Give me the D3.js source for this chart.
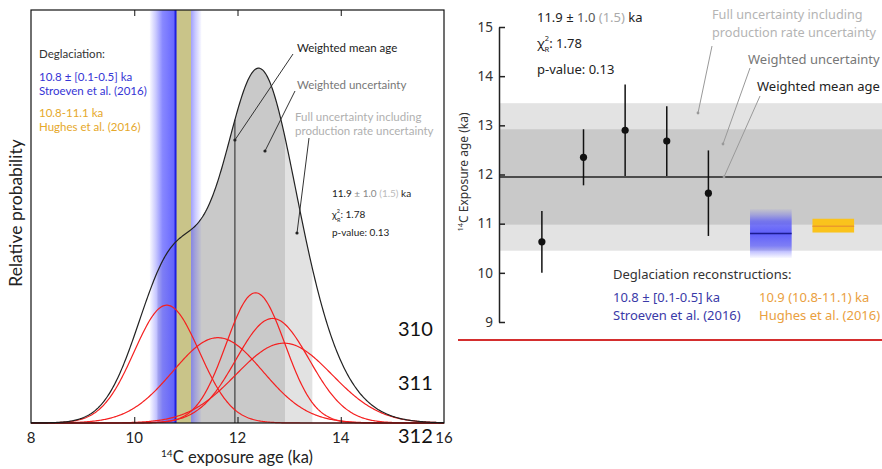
<!DOCTYPE html>
<html>
<head>
<meta charset="utf-8">
<script src="https://cdn.jsdelivr.net/npm/d3@7"></script>
<style>
body { margin: 0; background: #fff; }
svg { display: block; }
</style>
</head>
<body>
<svg id="chart" width="882" height="469"></svg>
<script>
'use strict';

// samples (14C exposure ages, ka) and 1-sigma errors
var sampleAges = [10.63, 12.35, 12.9, 12.68, 11.62];
var sampleErrs = [0.63, 0.57, 0.93, 0.71, 0.87];
var samplePos = [0, 1, 2, 3, 4];
// weighted mean, weighted uncertainty, full uncertainty
var meanAge = 11.95,
    meanErr = 0.97,
    fullErr = 1.5;
// deglaciation reconstructions: [age, low, high]
var stroeven = [10.8, 10.3, 11.3];
var hughes = [10.95, 10.82, 11.1];
var deglacPos = [5.5, 7];
var leftTicks = [8, 10, 12, 14, 16];
var rightTicks = [9, 10, 11, 12, 13, 14, 15];
var slideNums = ['310', '311', '312'];

var svg = d3.select('#chart');
var defs = svg.append('defs');
var leftFont = 'Lato, "Liberation Sans", sans-serif',
    rightFont = '"Noto Sans", "Open Sans", sans-serif';

function pdf(x, mu, s) {
    return Math.exp(-0.5 * Math.pow((x - mu) / s, 2)) / (s * Math.sqrt(2 * Math.PI));
}
function sumPdf(x) {
    return d3.sum(sampleAges, (m, i) => pdf(x, m, sampleErrs[i]));
}

function bandGradient(id, horizontal) {
    var g = defs.append('linearGradient').attr('id', id)
        .attr('x1', 0).attr('y1', 0)
        .attr('x2', horizontal ? 1 : 0).attr('y2', horizontal ? 0 : 1);
    [[0, 0.03], [0.12, 0.3], [0.25, 0.65], [0.5, 0.85], [0.75, 0.65], [0.88, 0.3], [1, 0.03]]
        .forEach(s => g.append('stop').attr('offset', s[0])
            .attr('stop-color', '#4848ff').attr('stop-opacity', s[1]));
}
bandGradient('blueH', true);
bandGradient('blueV', false);

// ---------------- left panel: probability density ----------------
var xL = d3.scaleLinear().domain([8, 16]).range([31, 444]);
var yL = d3.scaleLinear().domain([0, 2.22]).range([423, 10]);
var grid = d3.range(8, 16.001, 0.02);

var left = svg.append('g');

var area = d3.area()
    .x(d => xL(d))
    .y0(yL(0))
    .y1(d => yL(sumPdf(d)));

function fillRange(lo, hi, color) {
    var pts = grid.filter(d => d >= lo && d <= hi);
    pts.unshift(lo);
    pts.push(hi);
    left.append('path').datum(pts).attr('d', area).attr('fill', color);
}
fillRange(meanAge - fullErr, meanAge + fullErr, '#e2e2e2');
fillRange(meanAge - meanErr, meanAge + meanErr, '#c9c9c9');

// deglaciation bands
left.append('rect')
    .attr('x', xL(stroeven[1])).attr('width', xL(stroeven[2]) - xL(stroeven[1]))
    .attr('y', yL.range()[1]).attr('height', yL.range()[0] - yL.range()[1])
    .attr('fill', 'url(#blueH)');
left.append('rect')
    .attr('x', xL(stroeven[0])).attr('width', xL(hughes[2]) - xL(stroeven[0]))
    .attr('y', yL.range()[1]).attr('height', yL.range()[0] - yL.range()[1])
    .attr('fill', '#c9c489');
left.append('line')
    .attr('x1', xL(stroeven[0])).attr('x2', xL(stroeven[0]))
    .attr('y1', yL.range()[1]).attr('y2', yL.range()[0])
    .attr('stroke', '#1f1fe0').attr('stroke-width', 2);

// mean age line up to curve
left.append('line')
    .attr('x1', xL(meanAge)).attr('x2', xL(meanAge))
    .attr('y1', yL(0)).attr('y2', yL(sumPdf(meanAge)))
    .attr('stroke', '#222').attr('stroke-width', 1);

var line = d3.line().x(d => xL(d[0])).y(d => yL(d[1]));
sampleAges.forEach(function(m, i) {
    left.append('path')
        .datum(grid.map(x => [x, pdf(x, m, sampleErrs[i])]))
        .attr('d', line)
        .attr('fill', 'none').attr('stroke', '#f52020').attr('stroke-width', 1.2);
});
left.append('path')
    .datum(grid.map(x => [x, sumPdf(x)]))
    .attr('d', line)
    .attr('fill', 'none').attr('stroke', '#222').attr('stroke-width', 1.2);

// frame + inward ticks
left.append('rect')
    .attr('x', xL(8)).attr('y', yL.range()[1])
    .attr('width', xL(16) - xL(8)).attr('height', yL.range()[0] - yL.range()[1])
    .attr('fill', 'none').attr('stroke', '#111').attr('stroke-width', 1.2);
left.append('g').attr('transform', 'translate(0,' + yL(0) + ')')
    .call(d3.axisBottom(xL).tickValues(leftTicks.slice(1, -1)).tickSizeInner(-6).tickSizeOuter(0).tickFormat(''))
    .call(g => g.select('.domain').remove());
left.append('g').attr('transform', 'translate(0,' + yL.range()[1] + ')')
    .call(d3.axisTop(xL).tickValues(leftTicks.slice(1, -1)).tickSizeInner(-6).tickSizeOuter(0).tickFormat(''))
    .call(g => g.select('.domain').remove());
left.selectAll('.tick line').attr('stroke', '#111');

left.append('g').selectAll('text')
    .data(leftTicks).enter().append('text')
    .attr('x', d => xL(d)).attr('y', 443)
    .attr('text-anchor', 'middle')
    .attr('font-family', leftFont).attr('font-size', 15).attr('fill', '#222')
    .text(d => d);

var xlab = left.append('text')
    .attr('x', 237).attr('y', 463).attr('text-anchor', 'middle')
    .attr('font-family', leftFont).attr('font-size', 16.5).attr('fill', '#222');
xlab.append('tspan').attr('font-size', 10).attr('dy', -6).text('14');
xlab.append('tspan').attr('dy', 6).text('C exposure age (ka)');

left.append('text')
    .attr('transform', 'translate(22,213) rotate(-90)')
    .attr('text-anchor', 'middle')
    .attr('font-family', leftFont).attr('font-size', 17.5).attr('fill', '#222')
    .text('Relative probability');

// legend text (left)
function lt(x, y, txt, color, size) {
    return left.append('text').attr('x', x).attr('y', y)
        .attr('font-family', leftFont).attr('font-size', size || 11.5)
        .attr('fill', color).text(txt);
}
lt(39, 58, 'Deglaciation:', '#333');
lt(39, 81, '10.8 ± [0.1-0.5] ka', '#3535d5');
lt(39, 95, 'Stroeven et al. (2016)', '#3535d5');
lt(39, 117, '10.8-11.1 ka', '#e6a82a');
lt(39, 131, 'Hughes et al. (2016)', '#e6a82a');

lt(297, 52, 'Weighted mean age', '#222', 11.5);
lt(297, 89, 'Weighted uncertainty', '#777', 11.5);
lt(295, 121, 'Full uncertainty including', '#b0b0b0', 11.5);
lt(295, 135, 'production rate uncertainty', '#b0b0b0', 11.5);

function leader(g, x1, y1, x2, y2, dot) {
    g.append('line').attr('x1', x1).attr('y1', y1).attr('x2', x2).attr('y2', y2)
        .attr('stroke', '#333').attr('stroke-width', 1);
    if (dot) {
        g.append('circle').attr('cx', x2).attr('cy', y2).attr('r', 1.6).attr('fill', '#222');
    }
}
leader(left, 293, 54, xL(meanAge), 140, true);
leader(left, 295, 91, 265, 151, true);
leader(left, 309, 138, 297, 233, true);

var st = lt(332, 197, '', '#222', 10);
st.append('tspan').text('11.9 ');
st.append('tspan').attr('fill', '#888').text('± 1.0 ');
st.append('tspan').attr('fill', '#bbb').text('(1.5) ');
st.append('tspan').text('ka');
var chi = lt(332, 218, '', '#222', 10);
chi.append('tspan').text('χ');
chi.append('tspan').attr('font-size', 5.5).attr('dy', -5).text('2');
chi.append('tspan').attr('font-size', 5.5).attr('dx', -3).attr('dy', 8.5).text('R');
chi.append('tspan').attr('dy', -3.5).text(': 1.78');
lt(332, 236, 'p-value: 0.13', '#222', 10);

left.append('g').selectAll('text')
    .data(slideNums).enter().append('text')
    .attr('x', 398).attr('y', (d, i) => 336 + i * 53.5)
    .attr('font-family', leftFont).attr('font-size', 20).attr('fill', '#111')
    .text(d => d);

// ---------------- right panel: ages per sample ----------------
var xR = d3.scaleLinear().domain([-1.03, 8.17]).range([499, 882]);
var yR = d3.scaleLinear().domain([9, 15]).range([322, 27]);
var right = svg.append('g');

function hband(lo, hi, color) {
    right.append('rect')
        .attr('x', xR(-1.03)).attr('width', xR(8.17) - xR(-1.03))
        .attr('y', yR(hi)).attr('height', yR(lo) - yR(hi))
        .attr('fill', color);
}
hband(meanAge - fullErr, meanAge + fullErr, '#e3e3e3');
hband(meanAge - meanErr, meanAge + meanErr, '#c9c9c9');

right.append('line')
    .attr('x1', xR(-1.03)).attr('x2', 882)
    .attr('y1', yR(meanAge)).attr('y2', yR(meanAge))
    .attr('stroke', '#222').attr('stroke-width', 1.5);

// deglaciation boxes
right.append('rect')
    .attr('x', xR(deglacPos[0] - 0.5)).attr('width', xR(deglacPos[0] + 0.5) - xR(deglacPos[0] - 0.5))
    .attr('y', yR(stroeven[2])).attr('height', yR(stroeven[1]) - yR(stroeven[2]))
    .attr('fill', 'url(#blueV)');
right.append('line')
    .attr('x1', xR(deglacPos[0] - 0.5)).attr('x2', xR(deglacPos[0] + 0.5))
    .attr('y1', yR(stroeven[0])).attr('y2', yR(stroeven[0]))
    .attr('stroke', '#1b1b90').attr('stroke-width', 1.5);
right.append('rect')
    .attr('x', xR(deglacPos[1] - 0.5)).attr('width', xR(deglacPos[1] + 0.5) - xR(deglacPos[1] - 0.5))
    .attr('y', yR(hughes[2])).attr('height', yR(hughes[1]) - yR(hughes[2]))
    .attr('fill', '#fac31c');
right.append('line')
    .attr('x1', xR(deglacPos[1] - 0.5)).attr('x2', xR(deglacPos[1] + 0.5))
    .attr('y1', yR(hughes[0])).attr('y2', yR(hughes[0]))
    .attr('stroke', '#eb9a2a').attr('stroke-width', 1.5);

// error bars and points
right.append('g').selectAll('line')
    .data(sampleAges).enter().append('line')
    .attr('x1', (d, i) => xR(samplePos[i])).attr('x2', (d, i) => xR(samplePos[i]))
    .attr('y1', (d, i) => yR(d - sampleErrs[i])).attr('y2', (d, i) => yR(d + sampleErrs[i]))
    .attr('stroke', '#111').attr('stroke-width', 1.5);
right.append('g').selectAll('circle')
    .data(sampleAges).enter().append('circle')
    .attr('cx', (d, i) => xR(samplePos[i])).attr('cy', d => yR(d))
    .attr('r', 3.6).attr('fill', '#111');

// y axis
var yAx = right.append('g').attr('transform', 'translate(' + xR(-1.03) + ',0)')
    .call(d3.axisLeft(yR).tickValues(rightTicks).tickFormat(d3.format('d'))
        .tickSizeInner(-6).tickSizeOuter(0).tickPadding(6));
yAx.select('.domain').attr('stroke', '#222').attr('stroke-width', 1.5);
yAx.selectAll('.tick line').attr('stroke', '#222').attr('stroke-width', 1.5);
yAx.selectAll('text').attr('font-family', rightFont).attr('font-size', 13.5).attr('fill', '#333');

var ylab = right.append('text')
    .attr('transform', 'translate(468,172) rotate(-90)')
    .attr('text-anchor', 'middle')
    .attr('font-family', rightFont).attr('font-size', 12).attr('fill', '#333');
ylab.append('tspan').attr('font-size', 7.5).attr('dy', -5).text('14');
ylab.append('tspan').attr('dy', 5).text('C Exposure age (ka)');

function rt(x, y, txt, color, size) {
    return right.append('text').attr('x', x).attr('y', y)
        .attr('font-family', rightFont).attr('font-size', size || 13)
        .attr('fill', color).text(txt);
}
var st2 = rt(537, 22, '', '#222');
st2.append('tspan').text('11.9 ± ');
st2.append('tspan').attr('fill', '#555').text('1.0 ');
st2.append('tspan').attr('fill', '#aaa').text('(1.5)');
st2.append('tspan').text(' ka');
var chi2 = rt(537, 48, '', '#222');
chi2.append('tspan').text('χ');
chi2.append('tspan').attr('font-size', 7.5).attr('dy', -7).text('2');
chi2.append('tspan').attr('font-size', 7.5).attr('dx', -4.5).attr('dy', 11).text('R');
chi2.append('tspan').attr('dy', -4).text(': 1.78');
rt(537, 74, 'p-value: 0.13', '#222');

rt(712, 19, 'Full uncertainty including', '#b4b4b4', 12.7);
rt(712, 37, 'production rate uncertainty', '#b4b4b4', 12.7);
rt(748, 64, 'Weighted uncertainty', '#777');
rt(757, 91, 'Weighted mean age', '#222');
function leaderR(x1, y1, x2, y2) {
    right.append('line').attr('x1', x1).attr('y1', y1).attr('x2', x2).attr('y2', y2)
        .attr('stroke', '#999').attr('stroke-width', 1);
    right.append('circle').attr('cx', x2).attr('cy', y2).attr('r', 1.4).attr('fill', '#999');
}
leaderR(712, 46, 698, 113);
leaderR(750, 68, 723, 144);
leaderR(760, 96, 724, yR(meanAge));

rt(613, 279, 'Deglaciation reconstructions:', '#333');
rt(613, 302, '10.8 ± [0.1-0.5] ka', '#3a3aa8');
rt(613, 320, 'Stroeven et al. (2016)', '#3a3aa8');
rt(759, 302, '10.9 (10.8-11.1) ka', '#eaa040');
rt(759, 320, 'Hughes et al. (2016)', '#eaa040');

svg.append('line')
    .attr('x1', 458).attr('x2', 882).attr('y1', 340).attr('y2', 340)
    .attr('stroke', '#d42e2e').attr('stroke-width', 2);
</script>
</body>
</html>
